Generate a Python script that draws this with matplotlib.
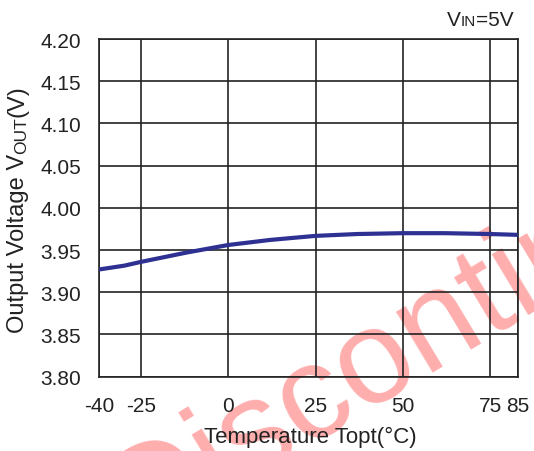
import numpy as np
import matplotlib
matplotlib.use("Agg")
import matplotlib.pyplot as plt

plt.rcParams['font.family'] = ['Liberation Sans', 'DejaVu Sans']

# --- data ---
temp = [-40, -31, -25, -12, 0, 12, 25, 37, 50, 62, 75, 85]
vout = [3.927, 3.9315, 3.936, 3.947, 3.956, 3.962, 3.9668, 3.969, 3.970, 3.970, 3.969, 3.968]
x_ticks = [-40, -25, 0, 25, 50, 75, 85]
x_ticklabels = ['-40', '-25', '0', '25', '50', '75', '85']
y_ticks = [3.80, 3.85, 3.90, 3.95, 4.00, 4.05, 4.10, 4.15, 4.20]

# the datasheet axis is not evenly spaced at both ends
scale_data = [-40, -25, 75, 85]
scale_pos = [0, 42, 391, 418.7]


def fwd(x):
    return np.interp(x, scale_data, scale_pos)


def inv(p):
    return np.interp(p, scale_pos, scale_data)


fig = plt.figure(figsize=(5.34, 4.52), dpi=100)
ax = fig.add_axes([0.1854, 0.1644, 0.9695 - 0.1854, 0.9115 - 0.1644])
ax.patch.set_visible(False)

ax.set_xscale('function', functions=(fwd, inv))
ax.plot(temp, vout, color='#2e3192', lw=3, solid_capstyle='butt', zorder=3)

ax.set_xlim(-40, 85)
ax.set_ylim(3.80, 4.20)
ax.set_xticks(x_ticks)
ax.set_xticklabels(x_ticklabels)
ax.set_yticks(y_ticks)
ax.set_yticklabels([f"{v:.2f}" for v in y_ticks])
ax.tick_params(length=0, labelsize=15, colors='#222222')
ax.tick_params(axis='y', pad=13)
ax.tick_params(axis='x', pad=14)
ax.grid(True, color='#222222', lw=1.2)
for s in ax.spines.values():
    s.set_color('#222222')
    s.set_linewidth(1.2)

# x label
fig.text(310 / 534, 1 - 443.5 / 452, "Temperature Topt(\u00b0C)", ha='center', va='baseline',
         fontsize=16, color='#222222')

# y label built from pieces so the small caps stay on the baseline
t1 = fig.text(29 / 534, 1 - 333 / 452, "Output Voltage V", rotation=90, ha='right', va='bottom',
              fontsize=17, color='#222222')
t2 = fig.text(0, 0, "OUT", rotation=90, ha='right', va='bottom', fontsize=12.5, color='#222222')
t3 = fig.text(0, 0, "(V)", rotation=90, ha='right', va='bottom', fontsize=17, color='#222222')
fig.canvas.draw()
r = fig.canvas.get_renderer()
bb1 = t1.get_window_extent(r)
t2.set_position(fig.transFigure.inverted().transform((bb1.x1, bb1.y1)))
bb2 = t2.get_window_extent(r)
t3.set_position(fig.transFigure.inverted().transform((bb1.x1, bb2.y1)))

# condition note top right
n3 = fig.text(514 / 534, 1 - 25.6 / 452, "=5V", ha='right', va='baseline', fontsize=15, color='#222222')
fig.canvas.draw()
b3 = n3.get_window_extent(r)
n2 = fig.text(0, 1 - 25.6 / 452, "IN", ha='right', va='baseline', fontsize=11, color='#222222')
n2.set_x(fig.transFigure.inverted().transform((b3.x0, 0))[0])
fig.canvas.draw()
b2 = n2.get_window_extent(r)
fig.text(fig.transFigure.inverted().transform((b2.x0, 0))[0], 1 - 25.6 / 452, "V", ha='right',
         va='baseline', fontsize=15, color='#222222')

# watermark, under the grid
fig.text(136 / 534, 1 - 544.6 / 452, "Discontinued", rotation=31, rotation_mode='anchor', ha='left',
         va='baseline', fontsize=96.5, color='#ff0000', alpha=0.32, zorder=-1)

fig.savefig("out.png", dpi=100)
